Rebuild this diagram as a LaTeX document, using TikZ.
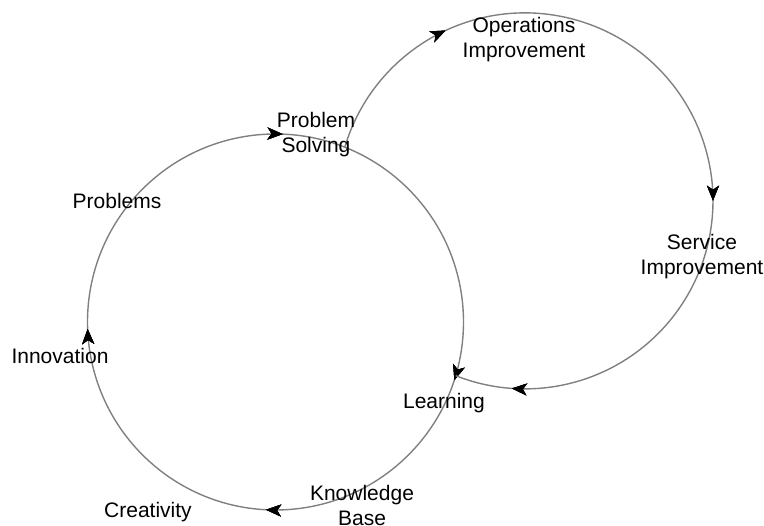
\documentclass[tikz,border=0pt]{standalone}
\usepackage{fontspec}
\setmainfont{Liberation Sans}
\usetikzlibrary{arrows.meta,decorations.markings}

\begin{document}
\begin{tikzpicture}[
    x=1pt, y=1pt,
    label/.style={
        align=center,
        inner sep=0pt,
        font=\fontsize{21}{25}\selectfont
    },
    loop/.style={draw=gray, line width=1.4pt},
    tip/.style={decoration={markings, mark=at position #1 with {\arrow{Stealth[length=15pt,width=12pt,inset=4pt,black]}}}, postaction=decorate}
]
\useasboundingbox (0,0) rectangle (764,526);

% centres of the two loops and where they cross
\coordinate (lc) at (275.5,204);
\coordinate (rc) at (525,325);
\coordinate (solve) at (344.8,378.8);
\coordinate (learn) at (455.7,150.2);
\coordinate (start) at ([shift={(135:188)}]lc);

% inner cycle, clockwise
\draw[loop, tip=0.131, tip=0.425, tip=0.633, tip=0.869]
    (start) arc[start angle=135, end angle=-225, radius=188];

% outer cycle from problem solving back to learning
\draw[loop, tip=0.176, tip=0.594, tip=0.936]
    (solve) arc[start angle=163.4, end angle=-111.6, radius=188];

\node[label] (ops) at (524,486) {Operations\\Improvement};
\node[label] (service) at (702,269) {Service\\Improvement};
\node[label] (solving) at (316,391) {Problem\\Solving};
\node[label] (problems) at (117,325) {Problems};
\node[label] (innovation) at (60,170) {Innovation};
\node[label] (creativity) at (148,14) {Creativity};
\node[label] (knowledge) at (362,20) {Knowledge\\Base};
\node[label] (learning) at (444,123) {Learning};

\end{tikzpicture}
\end{document}
